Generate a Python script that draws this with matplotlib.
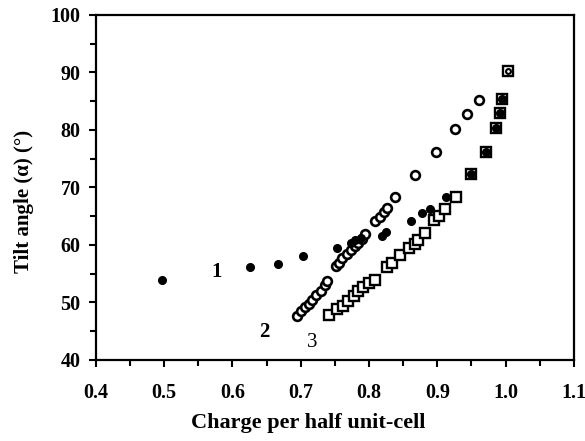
import matplotlib
matplotlib.use('Agg')
import matplotlib.pyplot as plt
from matplotlib.ticker import MultipleLocator

plt.rcParams['font.family'] = 'Liberation Serif'
plt.rcParams['font.weight'] = 'bold'

# series 1: filled circles
x1 = [0.497, 0.626, 0.667, 0.703, 0.753, 0.773, 0.780, 0.788, 0.819, 0.825,
      0.861, 0.877, 0.889, 0.912, 0.949, 0.971, 0.986, 0.992, 0.995]
y1 = [53.9, 56.1, 56.6, 58.1, 59.4, 60.4, 60.9, 61.2, 61.6, 62.3,
      64.2, 65.5, 66.3, 68.4, 72.3, 76.2, 80.3, 82.9, 85.3]

# series 2: open circles
x2 = [0.694, 0.700, 0.706, 0.712, 0.717, 0.723, 0.729, 0.735, 0.739,
      0.751, 0.756, 0.761, 0.767, 0.773, 0.779, 0.784, 0.789, 0.794,
      0.808, 0.816, 0.822, 0.827, 0.838, 0.867, 0.898, 0.926, 0.944, 0.961]
y2 = [47.7, 48.5, 49.2, 49.8, 50.4, 51.2, 51.9, 53.0, 53.8,
      56.3, 56.8, 57.7, 58.5, 59.2, 59.8, 60.4, 61.1, 61.9,
      64.1, 64.9, 65.7, 66.4, 68.4, 72.2, 76.1, 80.1, 82.7, 85.2]

# series 3: open squares
x3 = [0.741, 0.753, 0.762, 0.769, 0.778, 0.784, 0.791, 0.800, 0.808,
      0.826, 0.833, 0.846, 0.859, 0.867, 0.872, 0.882, 0.895, 0.903,
      0.911, 0.927, 0.949, 0.971, 0.986, 0.992, 0.995, 1.003]
y3 = [47.8, 48.9, 49.4, 50.3, 51.1, 52.0, 52.6, 53.3, 53.9,
      56.2, 56.8, 58.3, 59.4, 60.2, 60.9, 62.0, 64.3, 65.0,
      66.2, 68.4, 72.3, 76.2, 80.3, 82.9, 85.3, 90.3]

fig = plt.figure(figsize=(5.85, 4.41), dpi=100)
ax = fig.add_axes([0.164, 0.184, 0.817, 0.782])

ax.plot(x3, y3, 's', mfc='white', mec='black', mew=1.7, ms=6.5, ls='none')
ax.plot(x2, y2, 'o', mfc='white', mec='black', mew=1.9, ms=6.3, ls='none')
ax.plot(x1, y1, 'o', color='black', ms=5.5, ls='none')
# small open circle inside the last square
ax.plot([x3[-1]], [y3[-1]], 'o', mfc='white', mec='black', mew=1.5, ms=3.5)

ax.text(0.577, 55.3, '1', fontsize=15, fontweight='bold', ha='center', va='center')
ax.text(0.647, 44.8, '2', fontsize=15, fontweight='bold', ha='center', va='center')
ax.text(0.716, 43.0, '3', fontsize=15, fontweight='normal', ha='center', va='center')

ax.set_xlim(0.4, 1.1)
ax.set_ylim(40, 100)
ax.xaxis.set_major_locator(MultipleLocator(0.1))
ax.xaxis.set_minor_locator(MultipleLocator(0.05))
ax.yaxis.set_major_locator(MultipleLocator(10))
ax.yaxis.set_minor_locator(MultipleLocator(5))
ax.set_xticks(ax.get_xticks())
ax.set_xticklabels([f'{v:.1f}' for v in ax.get_xticks()])
ax.set_xlim(0.4, 1.1)

ax.tick_params(which='both', direction='out', width=1.5, labelsize=14.5)
ax.tick_params(which='major', length=5)
ax.tick_params(which='minor', length=4)
ax.tick_params(axis='x', pad=12)
ax.tick_params(axis='y', pad=6)
for s in ax.spines.values():
    s.set_linewidth(1.6)

ax.set_xlabel('Charge per half unit-cell', fontsize=16, fontweight='bold')
ax.xaxis.set_label_coords(0.444, -0.155)
ax.set_ylabel('Tilt angle (α) (°)', fontsize=15, fontweight='bold')
ax.yaxis.set_label_coords(-0.13, 0.46)

fig.savefig('out.png', dpi=100)
